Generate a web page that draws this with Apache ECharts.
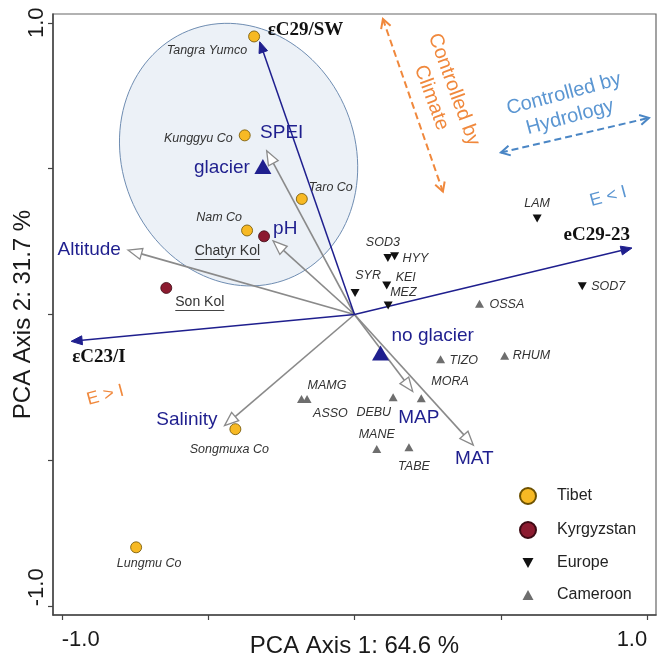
<!DOCTYPE html>
<html>
<head>
<meta charset="utf-8">
<script src="https://cdn.jsdelivr.net/npm/echarts@6/dist/echarts.min.js"></script>
<style>
  html, body { margin: 0; padding: 0; background: #fff; }
  #chart { width: 657px; height: 655px; }
</style>
</head>
<body>
<div id="chart"></div>
<script>
// ---------- site scores ----------
const tibetNames = ['Tangra Yumco', 'Kunggyu Co', 'Taro Co', 'Nam Co', 'Songmuxa Co', 'Lungmu Co'];
const tibetX = [-0.343, -0.375, -0.180, -0.367, -0.407, -0.746];
const tibetY = [0.953, 0.614, 0.396, 0.288, -0.393, -0.798];

const kyrgyzNames = ['Chatyr Kol', 'Son Kol'];
const kyrgyzX = [-0.309, -0.643];
const kyrgyzY = [0.268, 0.091];

const europeNames = ['LAM', 'SOD3', 'HYY', 'SYR', 'KEI', 'MEZ', 'SOD7'];
const europeX = [0.624, 0.114, 0.137, 0.002, 0.110, 0.115, 0.778];
const europeY = [0.329, 0.194, 0.200, 0.074, 0.099, 0.031, 0.097];

const cameroonNames = ['OSSA', 'TIZO', 'RHUM', 'MORA', 'DEBU', 'MANE', 'TABE', 'MAMG', 'ASSO'];
const cameroonX = [0.427, 0.294, 0.513, 0.228, 0.132, 0.076, 0.186, -0.181, -0.162];
const cameroonY = [0.037, -0.153, -0.141, -0.287, -0.284, -0.461, -0.455, -0.290, -0.290];

// ---------- explanatory variables (loadings) ----------
const envNames = ['SPEI', 'Altitude', 'pH', 'Salinity', 'MAP', 'MAT'];
const envX = [-0.300, -0.774, -0.278, -0.444, 0.199, 0.406];
const envY = [0.561, 0.221, 0.252, -0.381, -0.264, -0.448];

const isoNames = ['εC29/SW', 'eC29-23', 'εC23/I'];
const isoX = [-0.324, 0.948, -0.968];
const isoY = [0.935, 0.228, -0.092];

// supplementary (nominal) variable centroids
const glacierNames = ['glacier', 'no glacier'];
const glacierX = [-0.313, 0.089];
const glacierY = [0.507, -0.132];

// axis ticks and labelled ticks
const axisTicks = [-1, -0.5, 0, 0.5, 1];
const axisTickLabels = [-1, 1];

// ---------- layout / style settings ----------
const SANS = '"Liberation Sans", Arial, sans-serif';
const SERIF = '"Liberation Serif", "Times New Roman", serif';
const NAVY = '#1f1f8e';
const ORANGE = '#F0883C';
const LIGHTBLUE = '#5B96D2';

// label anchor offsets (px) relative to each mark: [dx, dy, align]
const siteLabelPlace = {
  'Tangra Yumco': [-7, 14, 'right'], 'Kunggyu Co': [-12, 3, 'right'], 'Taro Co': [7, -11, 'left'],
  'Nam Co': [-5, -13, 'right'], 'Songmuxa Co': [-6, 20, 'center'], 'Lungmu Co': [13, 16, 'center'],
  'Chatyr Kol': [-4, 15, 'right'], 'Son Kol': [9, 14, 'left'],
  'LAM': [0, -15, 'center'], 'SOD3': [-5, -15, 'center'], 'HYY': [8, 2, 'left'], 'SYR': [13, -17, 'center'],
  'KEI': [9, -8, 'left'], 'MEZ': [2, -13, 'left'], 'SOD7': [9, 0, 'left'],
  'OSSA': [10, 1, 'left'], 'TIZO': [9, 1, 'left'], 'RHUM': [8, 0, 'left'], 'MORA': [10, -17, 'left'],
  'DEBU': [-2, 15, 'right'], 'MANE': [0, -14, 'center'], 'TABE': [5, 19, 'center'],
  'MAMG': [6, -14, 'left'], 'ASSO': [6, 14, 'left']
};
const envLabelPlace = {
  'SPEI': [15, -18, 'center'], 'Altitude': [-7, 0, 'right'], 'pH': [0, -12, 'left'],
  'Salinity': [-7, -6, 'right'], 'MAP': [6, 26, 'center'], 'MAT': [1, 14, 'center']
};
const isoLabelPlace = {
  'εC29/SW': [8, -12, 'left'], 'eC29-23': [-2, -13, 'right'], 'εC23/I': [1, 16, 'left']
};
const glacierLabelPlace = { 'glacier': [-13, 1, 'right'], 'no glacier': [11, -17, 'left'] };

// Tibetan-plateau confidence ellipse (data units; tilt in degrees from vertical, leaning left)
const tibetEllipse = { cx: -0.396, cy: 0.548, a: 0.458, b: 0.398, tilt: 22 };

// interpretive annotations (data coordinates)
const climateArrow = [0.097, 1.013, 0.302, 0.421];
const hydrologyArrow = [0.500, 0.555, 1.006, 0.674];
const notes = [
  { text: 'Controlled by\nClimate', at: [0.301, 0.757], angle: -70, color: ORANGE, size: 20 },
  { text: 'Controlled by\nHydrology', at: [0.726, 0.716], angle: 15, color: LIGHTBLUE, size: 20 },
  { text: 'E < I', at: [0.867, 0.404], angle: 15, color: LIGHTBLUE, size: 18 },
  { text: 'E > I', at: [-0.851, -0.277], angle: 15, color: ORANGE, size: 18 }
];

// ---------- helpers ----------
const measureCtx = document.createElement('canvas').getContext('2d');
function textWidth(txt, font) { measureCtx.font = font; return measureCtx.measureText(txt).width; }

function points(names, xs, ys) {
  return names.map((n, i) => ({ name: n, value: [xs[i], ys[i]] }));
}

function siteLabels(items, fontSize, italic) {
  return items.map(d => {
    const p = siteLabelPlace[d.name];
    return Object.assign({}, d, {
      label: {
        show: true, position: 'inside', offset: [p[0], p[1]], align: p[2], verticalAlign: 'middle',
        formatter: '{b}', color: '#333', fontSize: fontSize, fontFamily: SANS,
        fontStyle: italic ? 'italic' : 'normal'
      }
    });
  });
}

function vectorRenderer(names, place, st) {
  return function (params, api) {
    const o = api.coord([0, 0]);
    const t = api.coord([api.value(0), api.value(1)]);
    const dx = t[0] - o[0], dy = t[1] - o[1];
    const L = Math.hypot(dx, dy);
    const ux = dx / L, uy = dy / L, px = -uy, py = ux;
    const bx = t[0] - ux * st.headLen, by = t[1] - uy * st.headLen;
    const head = [[t[0], t[1]], [bx + px * st.headW, by + py * st.headW], [bx - px * st.headW, by - py * st.headW]];
    const name = names[params.dataIndex];
    const p = place[name];
    return {
      type: 'group',
      children: [
        { type: 'line', shape: { x1: o[0], y1: o[1], x2: bx, y2: by }, style: { stroke: st.color, lineWidth: st.width } },
        { type: 'polygon', shape: { points: head }, style: { fill: st.headFill, stroke: st.color, lineWidth: st.headStroke } },
        {
          type: 'text', x: t[0] + p[0], y: t[1] + p[1],
          style: { text: name, fill: st.labelColor, font: st.font, align: p[2], verticalAlign: 'middle' }
        }
      ]
    };
  };
}

function dashedDoubleArrow(color) {
  return function (params, api) {
    const a = api.coord([api.value(0), api.value(1)]);
    const b = api.coord([api.value(2), api.value(3)]);
    const dx = b[0] - a[0], dy = b[1] - a[1];
    const L = Math.hypot(dx, dy);
    const ux = dx / L, uy = dy / L, px = -uy, py = ux;
    const len = 9, hw = 5;
    const chevron = (tip, s) => [
      [tip[0] - s * ux * len + px * hw, tip[1] - s * uy * len + py * hw],
      [tip[0], tip[1]],
      [tip[0] - s * ux * len - px * hw, tip[1] - s * uy * len - py * hw]
    ];
    return {
      type: 'group',
      children: [
        { type: 'line', shape: { x1: a[0], y1: a[1], x2: b[0], y2: b[1] }, style: { stroke: color, lineWidth: 2, lineDash: [7, 4] } },
        { type: 'polyline', shape: { points: chevron(b, 1) }, style: { stroke: color, lineWidth: 2, fill: null } },
        { type: 'polyline', shape: { points: chevron(a, -1) }, style: { stroke: color, lineWidth: 2, fill: null } }
      ]
    };
  };
}

// ---------- chart ----------
const chart = echarts.init(document.getElementById('chart'), null, { renderer: 'canvas' });

const axisCommon = {
  type: 'value', min: -1.03, max: 1.03,
  splitLine: { show: false },
  axisLine: { show: true, onZero: false, lineStyle: { color: '#444', width: 1.5 } },
  axisTick: { show: true, customValues: axisTicks, length: 5, lineStyle: { color: '#444', width: 1.2 } },
  nameLocation: 'middle',
  nameMoveOverlap: false,
  nameTextStyle: { fontSize: 24, color: '#1a1a1a', fontFamily: SANS }
};

const option = {
  animation: false,
  backgroundColor: '#fff',
  grid: {
    left: 53, right: 1, top: 14, bottom: 40, show: true, borderColor: '#666', borderWidth: 1.2,
    containLabel: false, outerBoundsMode: 'none'
  },
  xAxis: Object.assign({}, axisCommon, {
    name: 'PCA Axis 1: 64.6 %', nameGap: 19,
    axisLabel: {
      customValues: axisTickLabels, formatter: v => v.toFixed(1), fontSize: 22, color: '#1a1a1a',
      fontFamily: SANS, margin: 14, alignMinLabel: 'left', alignMaxLabel: 'right'
    }
  }),
  yAxis: Object.assign({}, axisCommon, {
    name: 'PCA Axis 2: 31.7 %', nameGap: 18,
    axisLabel: {
      customValues: axisTickLabels, formatter: v => v.toFixed(1), fontSize: 22, color: '#1a1a1a',
      fontFamily: SANS, margin: 5, rotate: 90, alignMinLabel: 'left'
    }
  }),
  legend: {
    orient: 'vertical', left: 514, top: 482, itemWidth: 16, itemHeight: 16, itemGap: 16,
    selectedMode: false,
    textStyle: { fontSize: 16, color: '#222', fontFamily: SANS, padding: [0, 0, 0, 16] },
    data: [
      { name: 'Tibet', icon: 'circle' },
      { name: 'Kyrgyzstan', icon: 'circle' },
      { name: 'Europe', icon: 'path://M0,0M16,16M2.5,3L13.5,3L8,13Z' },
      { name: 'Cameroon', icon: 'path://M0,0M16,16M2.5,13L13.5,13L8,3Z' }
    ]
  },
  series: [
    {
      name: 'Tibet ellipse', type: 'custom', silent: true, z: 1,
      data: [[tibetEllipse.cx, tibetEllipse.cy]],
      renderItem: function (params, api) {
        const e = tibetEllipse, t = e.tilt * Math.PI / 180;
        const ux = -Math.sin(t), uy = Math.cos(t), vx = uy, vy = -ux;
        const pts = [];
        for (let k = 0; k < 120; k++) {
          const ang = 2 * Math.PI * k / 120;
          const ca = Math.cos(ang) * e.a, sb = Math.sin(ang) * e.b;
          pts.push(api.coord([e.cx + ca * ux + sb * vx, e.cy + ca * uy + sb * vy]));
        }
        return { type: 'polygon', shape: { points: pts }, style: { fill: 'rgba(196,212,230,0.32)', stroke: '#6f8db2', lineWidth: 1 } };
      }
    },
    {
      name: 'climate arrow', type: 'custom', silent: true, z: 2,
      encode: { x: [0, 2], y: [1, 3] },
      data: [climateArrow], renderItem: dashedDoubleArrow(ORANGE)
    },
    {
      name: 'hydrology arrow', type: 'custom', silent: true, z: 2,
      encode: { x: [0, 2], y: [1, 3] },
      data: [hydrologyArrow], renderItem: dashedDoubleArrow('#4A86C5')
    },
    {
      name: 'notes', type: 'custom', silent: true, z: 2,
      data: notes.map(n => n.at),
      renderItem: function (params, api) {
        const n = notes[params.dataIndex];
        const c = api.coord([api.value(0), api.value(1)]);
        return {
          type: 'text', x: c[0], y: c[1], rotation: n.angle * Math.PI / 180,
          style: {
            text: n.text, fill: n.color, font: n.size + 'px ' + SANS, align: 'center',
            verticalAlign: 'middle', lineHeight: n.size + 4
          }
        };
      }
    },
    {
      name: 'environment', type: 'custom', silent: true, z: 3,
      data: envX.map((x, i) => [x, envY[i]]),
      renderItem: vectorRenderer(envNames, envLabelPlace, {
        color: '#8a8a8a', width: 1.6, headLen: 14, headW: 5.5, headFill: '#fff', headStroke: 1.3,
        labelColor: NAVY, font: '19px ' + SANS
      })
    },
    {
      name: 'isotopes', type: 'custom', silent: true, z: 3,
      data: isoX.map((x, i) => [x, isoY[i]]),
      renderItem: vectorRenderer(isoNames, isoLabelPlace, {
        color: NAVY, width: 1.5, headLen: 11, headW: 4.5, headFill: NAVY, headStroke: 1,
        labelColor: '#111', font: 'bold 19px ' + SERIF
      })
    },
    {
      name: 'Glacier', type: 'scatter', z: 4, symbol: 'triangle', symbolSize: [17, 15],
      itemStyle: { color: NAVY, opacity: 1 },
      data: points(glacierNames, glacierX, glacierY).map(d => {
        const p = glacierLabelPlace[d.name];
        return Object.assign(d, {
          label: {
            show: true, position: 'inside', offset: [p[0], p[1]], align: p[2], verticalAlign: 'middle',
            formatter: '{b}', color: NAVY, fontSize: 19, fontFamily: SANS
          }
        });
      })
    },
    {
      name: 'Tibet', type: 'scatter', z: 5, symbol: 'circle', symbolSize: 11,
      itemStyle: { color: '#F7B924', borderColor: '#6e5200', borderWidth: 0.8, opacity: 1 },
      data: siteLabels(points(tibetNames, tibetX, tibetY), 12.5, true)
    },
    {
      name: 'Kyrgyzstan', type: 'scatter', z: 5, symbol: 'circle', symbolSize: 11,
      itemStyle: { color: '#8C1B30', borderColor: '#3d0a14', borderWidth: 0.8, opacity: 1 },
      data: siteLabels(points(kyrgyzNames, kyrgyzX, kyrgyzY), 14, false)
    },
    {
      name: 'Kyrgyzstan underline', type: 'custom', silent: true, z: 5,
      data: kyrgyzX.map((x, i) => [x, kyrgyzY[i]]),
      renderItem: function (params, api) {
        const c = api.coord([api.value(0), api.value(1)]);
        const name = kyrgyzNames[params.dataIndex];
        const p = siteLabelPlace[name];
        const w = textWidth(name, '14px ' + SANS);
        const x1 = p[2] === 'right' ? c[0] + p[0] - w : (p[2] === 'center' ? c[0] + p[0] - w / 2 : c[0] + p[0]);
        const y = Math.round(c[1] + p[1] + 8) + 0.5;
        return { type: 'line', shape: { x1: x1, y1: y, x2: x1 + w, y2: y }, style: { stroke: '#444', lineWidth: 1 } };
      }
    },
    {
      name: 'Europe', type: 'scatter', z: 5, symbol: 'path://M0,0L10,0L5,9Z', symbolSize: [9, 8],
      itemStyle: { color: '#111', opacity: 1 },
      data: siteLabels(points(europeNames, europeX, europeY), 12.5, true)
    },
    {
      name: 'Cameroon', type: 'scatter', z: 5, symbol: 'triangle', symbolSize: [9, 8],
      itemStyle: { color: '#6e6e6e', opacity: 1 },
      data: siteLabels(points(cameroonNames, cameroonX, cameroonY), 12.5, true)
    }
  ]
};

chart.setOption(option);
</script>
</body>
</html>
